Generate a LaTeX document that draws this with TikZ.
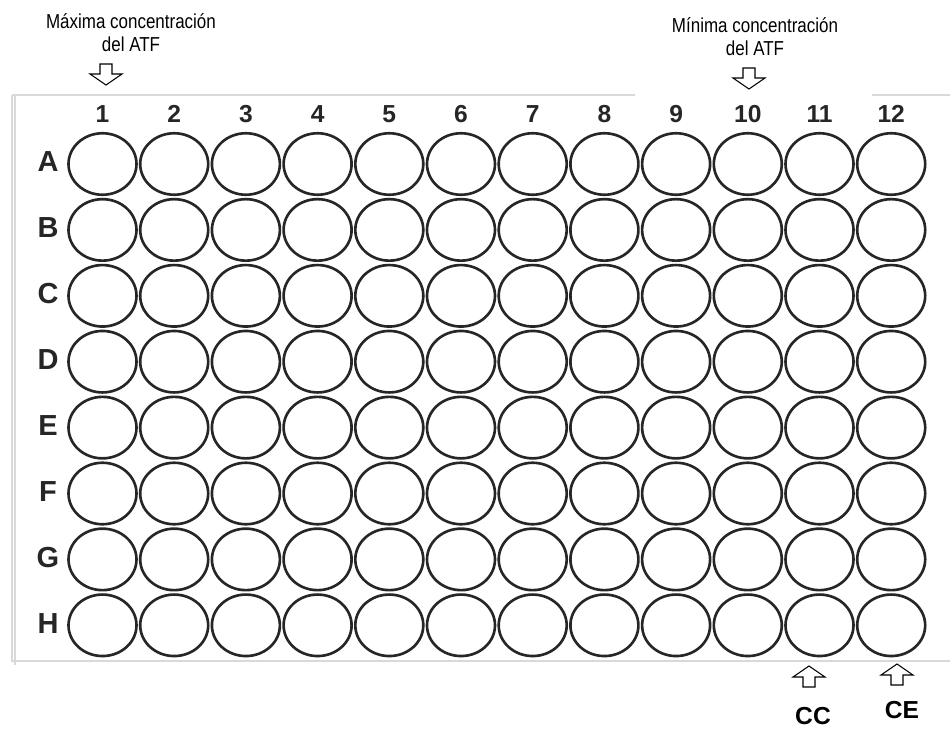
\documentclass[tikz,border=0pt]{standalone}
\usepackage{fontspec}
\setmainfont{Liberation Sans}
\newfontfamily\condfont[FakeStretch=0.84]{Liberation Sans}
\usetikzlibrary{shapes.geometric}

\begin{document}
\begin{tikzpicture}[x=0.02cm, y=-0.02cm,
    well/.style={ellipse, draw=black!85, line width=1.5pt, inner sep=0pt,
                 minimum width=1.36cm, minimum height=1.23cm},
    collbl/.style={font=\bfseries\fontsize{14}{16}\selectfont, text=black!85},
    rowlbl/.style={font=\bfseries\fontsize{16.5}{18}\selectfont, text=black!85},
    notelbl/.style={font=\condfont\fontsize{11.5}{13.2}\selectfont, align=center},
    ctrllbl/.style={font=\bfseries\fontsize{14}{16}\selectfont},
    frameline/.style={draw=black!15, line width=0.6pt},
    pics/blockarrow/.style={code={
      \draw[line width=0.6pt] (-6,0) -- (-6,10) -- (-16,10) -- (0,21) -- (16,10)
        -- (6,10) -- (6,0) -- cycle;}}
  ]
    \useasboundingbox (0,0) rectangle (950,730);

    % --- Plate frame ---
    \draw[frameline] (12,95) -- (635,95);
    \draw[frameline] (872,95) -- (950,95);
    \draw[frameline] (12,95) -- (12,661) -- (950,661);
    \draw[frameline] (15,95) -- (15,665);

    % --- Column numbers ---
    \foreach \c in {1,...,12}
      \node[collbl] (col\c) at ({102.5+71.7*(\c-1)},114) {\c};

    % --- Rows of wells ---
    \foreach \r [count=\i from 0] in {A,B,C,D,E,F,G,H} {
      \node[rowlbl] (row\r) at (48,{162+65.9*\i}) {\r};
      \foreach \c in {1,...,12}
        \node[well] (\r\c) at ({102.5+71.7*(\c-1)},{164+65.9*\i}) {};
    }

    % --- Concentration notes ---
    \node[notelbl] (maxnote) at (131,33) {Máxima concentración\\del ATF};
    \pic (maxarrow) at (106,64) {blockarrow};
    \node[notelbl] (minnote) at (755,37) {Mínima concentración\\del ATF};
    \pic (minarrow) at (749,68) {blockarrow};

    % --- Controls ---
    \pic[rotate=180] (ccarrow) at (809,687) {blockarrow};
    \pic[rotate=180] (cearrow) at (897,685) {blockarrow};
    \node[ctrllbl] (cc) at (813,716) {CC};
    \node[ctrllbl] (ce) at (902,710) {CE};
  \end{tikzpicture}
\end{document}
